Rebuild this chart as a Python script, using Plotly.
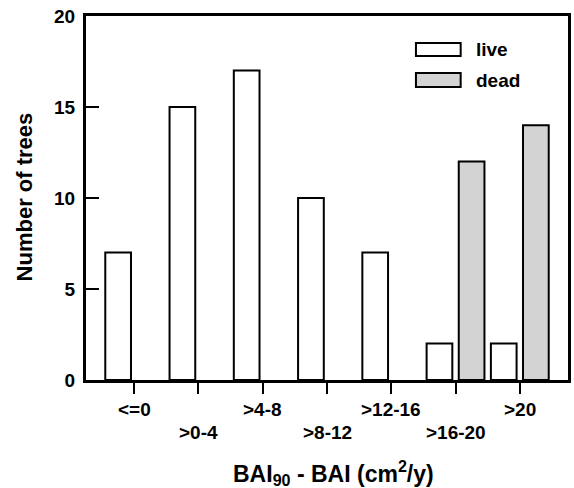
import plotly.graph_objects as go

categories = ["<=0", ">0-4", ">4-8", ">8-12", ">12-16", ">16-20", ">20"]
live = [7, 15, 17, 10, 7, 2, 2]
dead = [0, 0, 0, 0, 0, 12, 14]
y_ticks = [0, 5, 10, 15, 20]

FONT = "Liberation Sans, Arial, Helvetica, sans-serif"

# plot-area geometry in pixels (used only for placing decorations)
L, R, T, B = 86, 571, 16, 380
W, H = R - L, B - T


def px(xp):
    return (xp - L) / W


def py(yp):
    return (B - yp) / H


xs = list(range(len(categories)))
fig = go.Figure()
fig.add_trace(go.Bar(x=xs, y=live, name="live",
                     marker=dict(color="white", line=dict(color="black", width=2))))
fig.add_trace(go.Bar(x=xs, y=[v if v else None for v in dead], name="dead",
                     marker=dict(color="#d3d3d3", line=dict(color="black", width=2))))

annotations = []
for i, lab in enumerate(categories):
    annotations.append(dict(x=i, xref="x", y=py(409) if i % 2 == 0 else py(432), yref="paper",
                            text=lab, showarrow=False, xanchor="center", yanchor="middle",
                            font=dict(family=FONT, size=19, color="black", weight="bold")))

annotations.append(dict(x=px(335), y=py(473), xref="paper", yref="paper",
                        text="BAI<sub>90</sub> - BAI (cm<sup>2</sup>/y)", showarrow=False,
                        xanchor="center", yanchor="middle",
                        font=dict(family=FONT, size=23, color="black", weight="bold")))
annotations.append(dict(x=px(24), y=py(197), xref="paper", yref="paper",
                        text="Number of trees", showarrow=False, textangle=-90,
                        xanchor="center", yanchor="middle",
                        font=dict(family=FONT, size=22, color="black", weight="bold")))

# legend
shapes = []
legend_items = [("live", "white", 43, 56), ("dead", "#d3d3d3", 73, 87)]
for name, col, y0, y1 in legend_items:
    shapes.append(dict(type="rect", xref="paper", yref="paper",
                       x0=px(418), x1=px(463), y0=py(y1), y1=py(y0),
                       fillcolor=col, line=dict(color="black", width=2)))
    annotations.append(dict(x=px(476), y=py((y0 + y1) / 2), xref="paper", yref="paper",
                            text=name, showarrow=False, xanchor="left", yanchor="middle",
                            font=dict(family=FONT, size=19, color="black", weight="bold")))

fig.update_layout(
    width=574, height=488,
    margin=dict(l=L, r=574 - R, t=T, b=488 - B),
    paper_bgcolor="white", plot_bgcolor="white",
    barmode="group", bargap=0, bargroupgap=0.2,
    showlegend=False,
    annotations=annotations, shapes=shapes,
    font=dict(family=FONT, color="black"),
)
fig.update_xaxes(range=[-0.75, 6.75], tickvals=xs,
                 showticklabels=False, ticks="outside", ticklen=11, tickwidth=2, tickcolor="black",
                 showline=True, linecolor="black", linewidth=3, mirror=True,
                 showgrid=False, zeroline=False)
fig.update_yaxes(range=[0, 20], tickvals=y_ticks, ticks="inside", ticklen=13, tickwidth=2,
                 tickcolor="black", ticklabelstandoff=4,
                 tickfont=dict(family=FONT, size=19, color="black", weight="bold"),
                 showline=True, linecolor="black", linewidth=3, mirror=True,
                 showgrid=False, zeroline=False)

fig.write_html("out.html", config={"displayModeBar": False},
               post_script="document.body.style.margin='0px';document.body.style.overflow='hidden';")
